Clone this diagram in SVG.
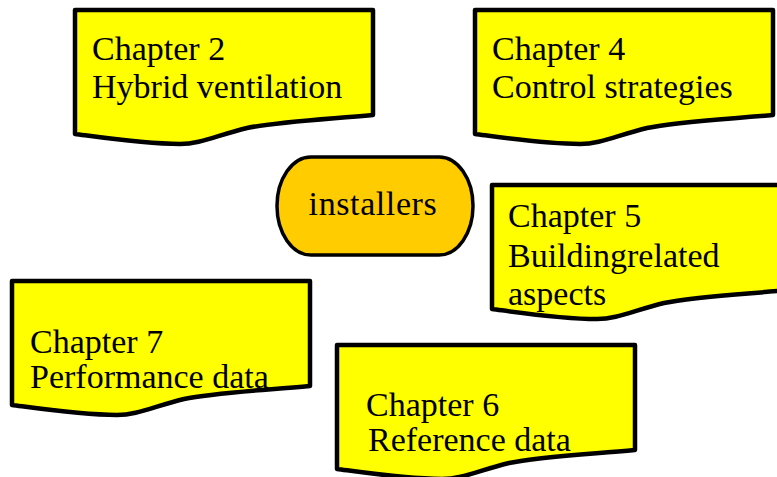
<svg xmlns="http://www.w3.org/2000/svg" width="777" height="477" viewBox="0 0 777 477">
<style>
.doc{fill:#FFFF00;stroke:#000;stroke-width:4.5;stroke-linejoin:round}
.term{fill:#FFCC00;stroke:#000;stroke-width:3.5}
text{font-family:"Liberation Serif","Times New Roman",serif;font-size:34px;fill:#000}
</style>
<defs>
<path id="docshape" d="M0,0 H298 V105 C240,110 200,112 172,118 C140,126 125,134 105,134 C70,134 30,128 0,124 Z"/>
</defs>
<rect width="777" height="477" fill="#fff"/>
<g id="connectors"></g>
<g id="ch2">
<use href="#docshape" class="doc" x="75" y="10"/>
<text x="92" y="60">Chapter 2</text>
<text x="92" y="98">Hybrid ventilation</text>
</g>
<g id="ch4">
<use href="#docshape" class="doc" x="475" y="10"/>
<text x="492" y="60">Chapter 4</text>
<text x="492" y="98">Control strategies</text>
</g>
<g id="installers">
<rect x="277" y="157" width="196" height="98" rx="34" ry="49" class="term"/>
<text x="373" y="215" text-anchor="middle" letter-spacing="0.6">installers</text>
</g>
<g id="ch5">
<use href="#docshape" class="doc" x="492" y="185"/>
<text x="508" y="227">Chapter 5</text>
<text x="508" y="267">Buildingrelated</text>
<text x="508" y="305">aspects</text>
</g>
<g id="ch7">
<use href="#docshape" class="doc" x="12" y="281"/>
<text x="30" y="353">Chapter 7</text>
<text x="30" y="388">Performance data</text>
</g>
<g id="ch6">
<use href="#docshape" class="doc" x="337" y="345"/>
<text x="366" y="416">Chapter 6</text>
<text x="368" y="451">Reference data</text>
</g>
</svg>
